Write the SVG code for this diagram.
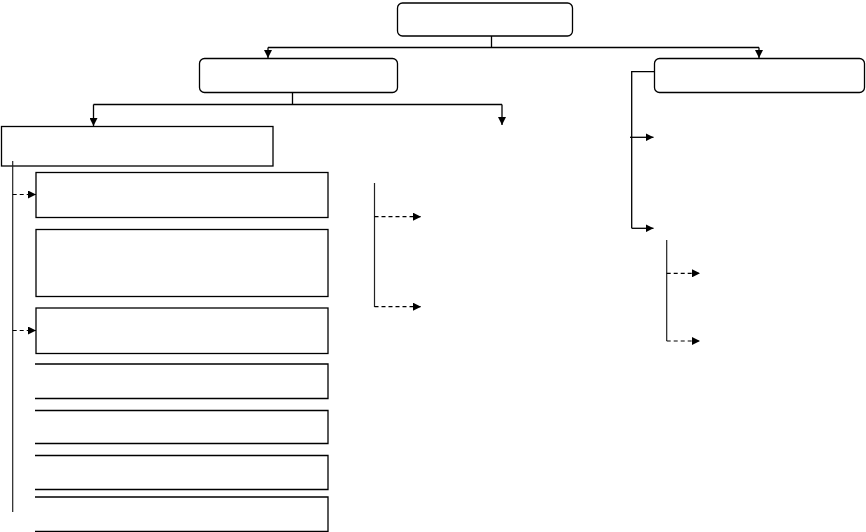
<svg xmlns="http://www.w3.org/2000/svg" width="866" height="532" viewBox="0 0 866 532">
<style>
.box{fill:#fff;stroke:#000;stroke-width:1.3}
.open{fill:none;stroke:#000;stroke-width:1.3}
.ln{fill:none;stroke:#000;stroke-width:1.3}
.vl{fill:none;stroke:#222;stroke-width:1.2}
.ds{fill:none;stroke:#000;stroke-width:1.2;stroke-dasharray:4 3}
</style>
<defs>
<marker id="ah" viewBox="0 0 10 10" refX="10" refY="5" markerWidth="8" markerHeight="8" markerUnits="userSpaceOnUse" orient="auto">
<path d="M0,0 L10,5 L0,10 Z" fill="#000"/>
</marker>
</defs>
<rect width="866" height="532" fill="#fff"/>
<g id="root"><rect class="box" x="397.5" y="3" width="175" height="33" rx="5"/></g>
<g id="l2-left"><rect class="box" x="199.5" y="58.5" width="198" height="34" rx="5"/></g>
<g id="l2-right"><rect class="box" x="654.5" y="58.5" width="210" height="34" rx="5"/></g>
<g id="l3-left"><rect class="box" x="1.5" y="126.5" width="271.5" height="39.5"/></g>
<g id="a"><rect class="box" x="36" y="172.5" width="292" height="45"/></g>
<g id="b"><rect class="box" x="36" y="229.5" width="292" height="67"/></g>
<g id="c"><rect class="box" x="36" y="308" width="292" height="45.5"/></g>
<g id="d"><path class="open" d="M35,364 H328 V398.5 H35"/></g>
<g id="e"><path class="open" d="M35,410.5 H328 V443.5 H35"/></g>
<g id="f"><path class="open" d="M35,455.5 H328 V489.5 H35"/></g>
<g id="g"><path class="open" d="M35,497 H328 V531.5 H35"/></g>
<g id="connectors">
<path class="ln" d="M491.5,36 V47.5 M268,47.5 H759"/>
<path class="ln" d="M268,47.5 V58" marker-end="url(#ah)"/>
<path class="ln" d="M759,47.5 V58" marker-end="url(#ah)"/>
<path class="ln" d="M292.5,92.5 V104.5 M93.5,104.5 H502"/>
<path class="ln" d="M93.5,104.5 V126" marker-end="url(#ah)"/>
<path class="ln" d="M502,104.5 V125" marker-end="url(#ah)"/>
<path class="vl" d="M12.7,161 V512"/>
<path class="ds" d="M12.7,194.5 H36" marker-end="url(#ah)"/>
<path class="ds" d="M12.7,330.5 H36" marker-end="url(#ah)"/>
<path class="vl" d="M374.5,183 V307"/>
<path class="ds" d="M374.5,216.7 H421" marker-end="url(#ah)"/>
<path class="ds" d="M374.5,306.7 H421" marker-end="url(#ah)"/>
<path class="ln" d="M654.5,71.7 H631.7 V228.3"/>
<path class="ln" d="M630,137.3 H653.5" marker-end="url(#ah)"/>
<path class="ln" d="M631.7,228.3 H653.5" marker-end="url(#ah)"/>
<path class="vl" d="M666.7,240 V341"/>
<path class="ds" d="M666.7,273.3 H700" marker-end="url(#ah)"/>
<path class="ds" d="M666.7,341 H700" marker-end="url(#ah)"/>
</g>
</svg>
